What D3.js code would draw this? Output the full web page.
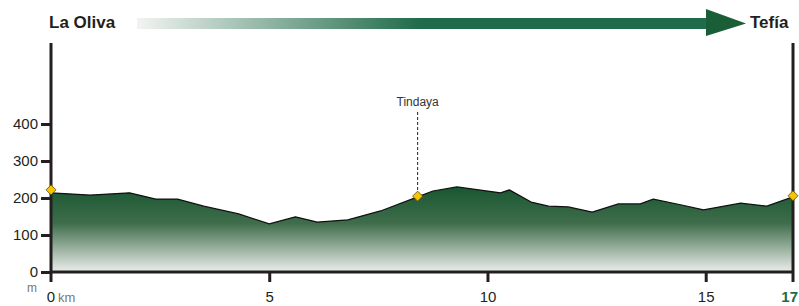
<!DOCTYPE html>
<html>
<head>
<meta charset="utf-8">
<script src="https://cdn.jsdelivr.net/npm/d3@7"></script>
<style>
  body { margin: 0; background: #fff; }
  svg { display: block; font-family: "Liberation Sans", Arial, sans-serif; }
</style>
</head>
<body>
<div id="chart"></div>
<script>
const width = 799;
const height = 306;

// profile: distance (km) and elevation (m)
const km = [0, 0.9, 1.8, 2.4, 2.9, 3.5, 4.3, 5.0, 5.6, 6.1, 6.8, 7.55, 8.4, 8.75, 9.3, 10.3, 10.5, 11.0, 11.4, 11.85, 12.4, 13.0, 13.5, 13.8, 14.45, 14.95, 15.8, 16.4, 17];
const elev = [214, 208, 214, 197, 197, 178, 157, 130, 149, 135, 141, 165, 203, 219, 230, 214, 222, 189, 178, 176, 162, 184, 184, 197, 181, 168, 186, 178, 203];

// waypoints
const wpName = ["La Oliva", "Tindaya", "Tefía"];
const wpKm = [0, 8.4, 17];
const wpElev = [222, 205, 206];

const yTicks = [0, 100, 200, 300, 400];
const xTicks = [5, 10, 15];

const x = d3.scaleLinear().domain([0, 17]).range([51, 793]);
const y = d3.scaleLinear().domain([0, 400]).range([272, 124]);

const svg = d3.select("#chart").append("svg")
    .attr("width", width)
    .attr("height", height);

const defs = svg.append("defs");

const fillGrad = defs.append("linearGradient")
    .attr("id", "fillGrad")
    .attr("gradientUnits", "userSpaceOnUse")
    .attr("x1", 0).attr("x2", 0)
    .attr("y1", y(240)).attr("y2", y(0));
fillGrad.append("stop").attr("offset", "0%").attr("stop-color", "#15542f");
fillGrad.append("stop").attr("offset", "45%").attr("stop-color", "#3f6d4b");
fillGrad.append("stop").attr("offset", "100%").attr("stop-color", "#eceeec");

const arrowGrad = defs.append("linearGradient")
    .attr("id", "arrowGrad")
    .attr("gradientUnits", "userSpaceOnUse")
    .attr("x1", 137).attr("x2", 420)
    .attr("y1", 0).attr("y2", 0);
arrowGrad.append("stop").attr("offset", "0%").attr("stop-color", "#f2f4f2");
arrowGrad.append("stop").attr("offset", "100%").attr("stop-color", "#1f6b4a");

// header arrow
svg.append("rect")
    .attr("x", 137).attr("y", 18)
    .attr("width", 578).attr("height", 11)
    .attr("fill", "url(#arrowGrad)");
svg.append("path")
    .attr("d", "M706,9 L746,23.5 L706,36 Z")
    .attr("fill", "#1a5e38");

svg.append("text")
    .attr("x", 49).attr("y", 28)
    .attr("font-size", 17).attr("font-weight", "bold")
    .attr("fill", "#231f20")
    .text(wpName[0]);
svg.append("text")
    .attr("x", 750).attr("y", 28)
    .attr("font-size", 17).attr("font-weight", "bold")
    .attr("fill", "#231f20")
    .text(wpName[2]);

// profile area
const pts = km.map((d, i) => [d, elev[i]]);

const area = d3.area()
    .x(d => x(d[0]))
    .y0(y(0))
    .y1(d => y(d[1]));

const line = d3.line()
    .x(d => x(d[0]))
    .y(d => y(d[1]));

svg.append("path")
    .datum(pts)
    .attr("d", area)
    .attr("fill", "url(#fillGrad)");

svg.append("path")
    .datum(pts)
    .attr("d", line)
    .attr("fill", "none")
    .attr("stroke", "#111")
    .attr("stroke-width", 1.2)
    .attr("stroke-linejoin", "round");

// axes frame
const axisColor = "#231f20";
svg.append("line")
    .attr("x1", x(0)).attr("x2", x(0))
    .attr("y1", 43).attr("y2", 282)
    .attr("stroke", axisColor).attr("stroke-width", 3);
svg.append("line")
    .attr("x1", x(17)).attr("x2", x(17))
    .attr("y1", 43).attr("y2", 282)
    .attr("stroke", axisColor).attr("stroke-width", 3);

const yAxis = svg.append("g")
    .attr("transform", `translate(${x(0)},0)`)
    .call(d3.axisLeft(y).tickValues(yTicks).tickSize(10).tickPadding(3));
yAxis.select(".domain").remove();
yAxis.selectAll(".tick line").attr("stroke", axisColor).attr("stroke-width", 3);
yAxis.selectAll(".tick text")
    .attr("font-size", 15).attr("fill", "#231f20")
    .attr("font-family", "Liberation Sans, Arial, sans-serif");

const xAxis = svg.append("g")
    .attr("transform", `translate(0,${y(0)})`)
    .call(d3.axisBottom(x).tickValues(xTicks).tickSize(10).tickPadding(9));
xAxis.select(".domain")
    .attr("d", `M${x(0)},0H${x(17)}`)
    .attr("stroke", axisColor).attr("stroke-width", 3);
xAxis.selectAll(".tick line").attr("stroke", axisColor).attr("stroke-width", 3);
xAxis.selectAll(".tick text")
    .attr("font-size", 15).attr("fill", "#231f20")
    .attr("font-family", "Liberation Sans, Arial, sans-serif");

// unit labels
svg.append("text")
    .attr("x", 32).attr("y", 292)
    .attr("font-size", 12).attr("fill", "#777")
    .attr("text-anchor", "middle")
    .text("m");
svg.append("text")
    .attr("x", x(0)).attr("y", 302)
    .attr("font-size", 15).attr("fill", "#231f20")
    .attr("text-anchor", "middle")
    .text("0");
svg.append("text")
    .attr("x", 58).attr("y", 302)
    .attr("font-size", 13).attr("fill", "#777")
    .text("km");
svg.append("text")
    .attr("x", 798).attr("y", 302)
    .attr("font-size", 15).attr("font-weight", "bold")
    .attr("fill", "#1e6b47")
    .attr("text-anchor", "end")
    .text("17");

// Tindaya marker
svg.append("line")
    .attr("x1", x(wpKm[1])).attr("x2", x(wpKm[1]))
    .attr("y1", 112).attr("y2", y(wpElev[1]))
    .attr("stroke", "#222").attr("stroke-width", 1)
    .attr("stroke-dasharray", "3,2");
svg.append("text")
    .attr("x", x(wpKm[1])).attr("y", 106)
    .attr("font-size", 12).attr("fill", "#333")
    .attr("text-anchor", "middle")
    .text(wpName[1]);

// waypoint diamonds
svg.selectAll(".wp")
    .data(wpKm.map((d, i) => [d, wpElev[i]]))
    .join("path")
    .attr("class", "wp")
    .attr("d", "M0,-5 L5,0 L0,5 L-5,0 Z")
    .attr("transform", d => `translate(${x(d[0])},${y(d[1])})`)
    .attr("fill", "#f7c400")
    .attr("stroke", "#5a4a00")
    .attr("stroke-width", 0.8);
</script>
</body>
</html>
